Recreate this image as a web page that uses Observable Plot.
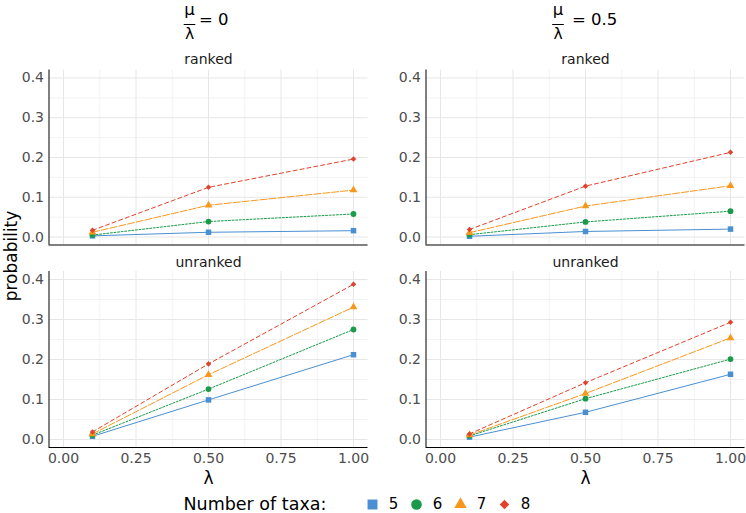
<!DOCTYPE html>
<html><head><meta charset="utf-8">
<script src="https://cdn.jsdelivr.net/npm/d3@7"></script>
<script src="https://cdn.jsdelivr.net/npm/@observablehq/plot@0.6"></script>
<style>
body{margin:0;background:#fff;}
#root{position:relative;width:746px;height:513px;overflow:hidden;font-family:"DejaVu Sans",sans-serif;background:#fff;}
#root svg{overflow:visible;}
</style></head><body><div id="root"></div>
<script>
// ---- data ----
const lambdaValues = [0.1, 0.5, 1.0];
const taxaCounts = ["5", "6", "7", "8"];
// rows = taxa 5,6,7,8 ; columns = lambda 0.1, 0.5, 1.0
const ranked_mu0 = [[0.003, 0.012, 0.016], [0.005, 0.039, 0.058], [0.012, 0.080, 0.118], [0.017, 0.125, 0.196]];
const ranked_mu05 = [[0.002, 0.014, 0.020], [0.006, 0.038, 0.065], [0.011, 0.078, 0.129], [0.019, 0.128, 0.213]];
const unranked_mu0 = [[0.008, 0.099, 0.212], [0.011, 0.126, 0.275], [0.014, 0.162, 0.331], [0.019, 0.189, 0.388]];
const unranked_mu05 = [[0.006, 0.068, 0.163], [0.009, 0.102, 0.201], [0.011, 0.115, 0.254], [0.014, 0.142, 0.293]];
const rowLabels = ["ranked", "unranked"];
const colRatioValues = ["0", "0.5"];
const xTicks = [0, 0.25, 0.5, 0.75, 1];
const xMinorTicks = [0.125, 0.375, 0.625, 0.875];
const yTicks = [0, 0.1, 0.2, 0.3, 0.4];
const yMinorTicks = [0.05, 0.15, 0.25, 0.35];
const xLabel = "λ";
const yLabel = "probability";
const legendTitle = "Number of taxa:";

// ---- styles ----
const colors = ["#4A8FD2", "#1B9A4B", "#F7981D", "#E2412B"];
const symbols = ["square", "circle", "triangle", "diamond2"];
const dashes = ["none", "2,1.6", "7,2", "4,3"];
const dotR = [3.1, 2.9, 2.9, 2.5];
const legendR = [5.6, 5.3, 4.6, 4.3];
const xDomain = [-0.05, 1.05];
const yDomain = [-0.02, 0.42];
const font = "DejaVu Sans";

const root = document.getElementById("root");
function place(el, left, top) {
  el.style.position = "absolute";
  el.style.left = left + "px";
  el.style.top = top + "px";
  root.appendChild(el);
}

const cols = [{left: 0, ml: 48.5, mr: 5.5}, {left: 373, ml: 52.5, mr: 1.5}];
const rows = [
  {top: 44, height: 202, mt: 25.5, mb: 1.5, showX: false, stripDy: -10.7},
  {top: 246, height: 243, mt: 25, mb: 42, showX: true, stripDy: -8.8}
];
const panelValues = [[ranked_mu0, ranked_mu05], [unranked_mu0, unranked_mu05]];

rows.forEach((row, ri) => {
  cols.forEach((col, ci) => {
    const values = panelValues[ri][ci];
    const data = values.flatMap((arr, ti) => arr.map((p, li) => ({taxa: taxaCounts[ti], lambda: lambdaValues[li], p})));
    const marks = [
      Plot.ruleX(xMinorTicks, {stroke: "#f0f0f0", strokeWidth: 0.8}),
      Plot.ruleY(yMinorTicks, {stroke: "#f0f0f0", strokeWidth: 0.8}),
      Plot.ruleX(xTicks, {stroke: "#e6e6e6", strokeWidth: 1}),
      Plot.ruleY(yTicks, {stroke: "#e6e6e6", strokeWidth: 1}),
      Plot.axisY({ticks: yTicks, tickSize: 0, tickPadding: 5, tickFormat: d3.format(".1f"), fontSize: 14, fill: "#4d4d4d", label: null}),
      Plot.ruleX([xDomain[0]], {stroke: "#000", strokeWidth: 1}),
      Plot.ruleY([yDomain[0]], {stroke: "#000", strokeWidth: 1}),
      Plot.text([rowLabels[ri]], {text: d => d, frameAnchor: "top", lineAnchor: "middle", dy: row.stripDy, fontSize: 14, fill: "#1a1a1a"})
    ];
    if (row.showX) {
      marks.push(Plot.axisX({ticks: xTicks, tickSize: 0, tickPadding: 6, tickFormat: d3.format(".2f"), fontSize: 14, fill: "#4d4d4d", label: null}));
      marks.push(Plot.text([xLabel], {text: d => d, frameAnchor: "bottom", lineAnchor: "middle", dy: 30.6, fontSize: 17, fill: "#000"}));
    }
    taxaCounts.forEach((t, i) => {
      marks.push(Plot.line(data.filter(d => d.taxa === t), {x: "lambda", y: "p", stroke: colors[i], strokeWidth: 1, strokeDasharray: dashes[i]}));
    });
    taxaCounts.forEach((t, i) => {
      marks.push(Plot.dot(data.filter(d => d.taxa === t), {x: "lambda", y: "p", symbol: symbols[i], fill: colors[i], stroke: "none", r: dotR[i]}));
    });
    const chart = Plot.plot({
      width: 373,
      height: row.height,
      marginLeft: col.ml,
      marginRight: col.mr,
      marginTop: row.mt,
      marginBottom: row.mb,
      style: {fontFamily: font, background: "transparent", overflow: "visible"},
      x: {domain: xDomain, axis: row.showX ? undefined : null},
      y: {domain: yDomain},
      marks
    });
    place(chart, col.left, row.top);
  });
});

// ---- column headers (mu / lambda = value) ----
const headerCenters = [189.5, 558];
const headerEqStarts = [199, 572];
const hdr = d3.create("svg").attr("width", 746).attr("height", 44).style("font-family", font);
colRatioValues.forEach((v, i) => {
  const cx = headerCenters[i];
  hdr.append("text").attr("x", cx).attr("y", 14.5).attr("text-anchor", "middle").attr("font-size", 16.5).text("μ");
  hdr.append("line").attr("x1", cx - 5.8).attr("x2", cx + 5.8).attr("y1", 24.5).attr("y2", 24.5).attr("stroke", "#000").attr("stroke-width", 1);
  hdr.append("text").attr("x", cx).attr("y", 38.5).attr("text-anchor", "middle").attr("font-size", 15.5).text("λ");
  hdr.append("text").attr("x", headerEqStarts[i]).attr("y", 25).attr("font-size", 16.5).text("= " + v);
});
place(hdr.node(), 0, 0);

// ---- y axis title ----
const yt = document.createElement("div");
yt.textContent = yLabel;
yt.style.cssText = "font-size:17px;color:#000;white-space:nowrap;transform:translate(-50%,-50%) rotate(-90deg);line-height:1;";
place(yt, 11, 256);

// ---- legend ----
const legendMarks = [
  Plot.text([legendTitle], {text: d => d, frameAnchor: "left", dx: 183, textAnchor: "start", fontSize: 17.5, fill: "#000"})
];
taxaCounts.forEach((t, i) => {
  legendMarks.push(Plot.dot([t], {x: d => d, symbol: symbols[i], fill: colors[i], stroke: "none", r: legendR[i]}));
});
legendMarks.push(Plot.text(taxaCounts, {x: d => d, text: d => d, dx: 21, fontSize: 15, fill: "#000"}));
const legend = Plot.plot({
  width: 746, height: 24, margin: 0,
  style: {fontFamily: font, background: "transparent", overflow: "visible"},
  x: {type: "point", domain: taxaCounts, range: [348, 527], axis: null},
  marks: legendMarks
});
place(legend, 0, 492);
</script>
</body></html>
